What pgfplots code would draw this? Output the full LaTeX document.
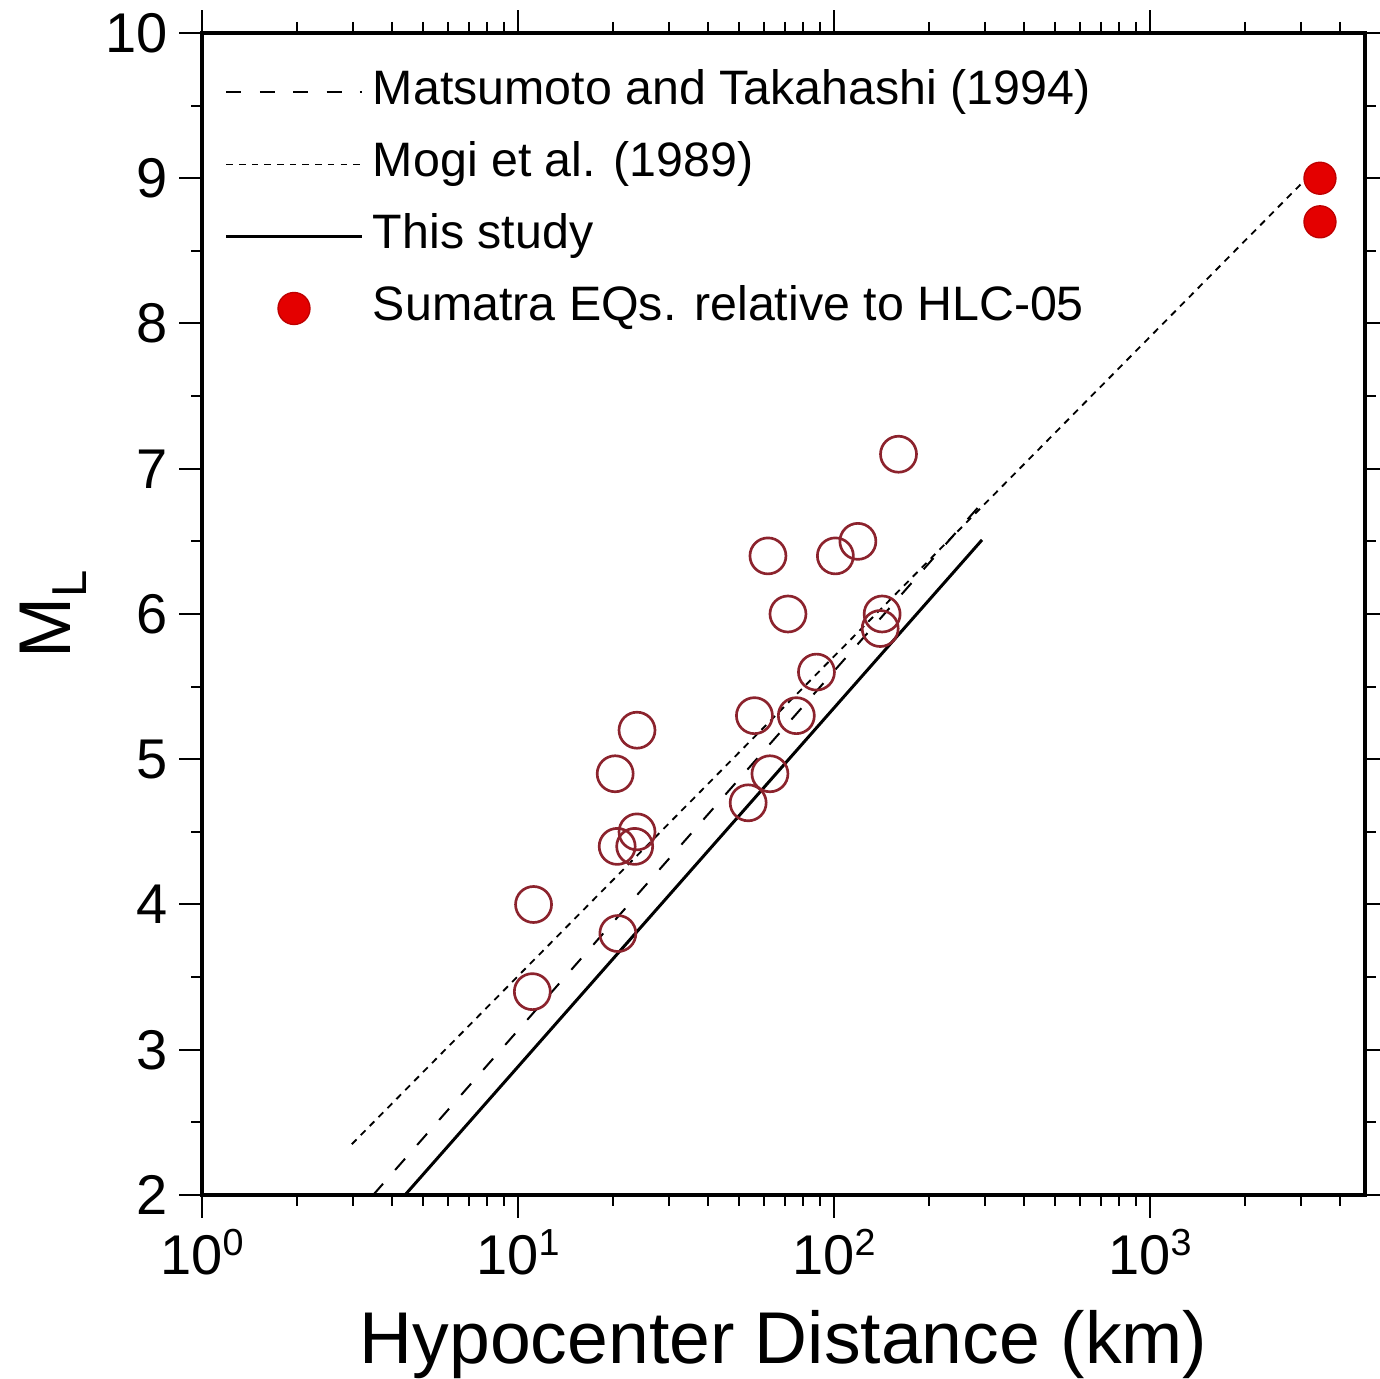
\documentclass[border=0pt]{standalone}
\usepackage{fontspec}
\setmainfont{Liberation Sans}
\usepackage{pgfplots}
\pgfplotsset{compat=1.18}

\definecolor{ringred}{RGB}{140,35,45}
\definecolor{dotred}{RGB}{228,0,0}
\definecolor{dotedge}{RGB}{190,0,0}

% decade tick label: 10 with a raised exponent in the text font
\newcommand\dec[1]{10\raisebox{5.7pt}{\fontsize{11.3}{12}\selectfont #1}}

\begin{document}
\begin{tikzpicture}
\begin{axis}[
  scale only axis,
  width=348.9pt, height=348.6pt,
  xmode=log, log basis x=10,
  xmin=1, xmax=4790, ymin=2, ymax=10,
  xtick={1,10,100,1000},
  xticklabels={\dec{0},\dec{1},\dec{2},\dec{3}},
  minor xtick={2,3,4,5,6,7,8,9,20,30,40,50,60,70,80,90,
               200,300,400,500,600,700,800,900,2000,3000,4000},
  ytick={2,3,...,10},
  minor ytick={2.5,3.5,...,9.5},
  /pgf/number format/assume math mode=true,
  tick align=outside,
  major tick length=6.8pt, minor tick length=3.3pt,
  every tick/.style={black, line width=0.6pt},
  axis line style={line width=1.3pt},
  tick label style={font=\fontsize{16.8}{20}\selectfont},
  label style={font=\fontsize{22}{26}\selectfont},
  xlabel={Hypocenter Distance (km)},
  ylabel={M\raisebox{-5pt}{\fontsize{14.7}{16}\selectfont L}},
  xlabel style={at={(axis description cs:0.5,-0.1446)}, anchor=base},
  ylabel style={at={(axis description cs:-0.1135,0.5)}, anchor=base},
  legend style={
    at={(axis description cs:0,1)}, anchor=north west,
    xshift=6.9pt, yshift=-10.6pt,
    draw=none, fill=none, inner sep=0pt, outer sep=0pt,
    font=\fontsize{14.5}{17}\selectfont,
    row sep=7.1pt,
    nodes={inner sep=0pt, text height=11pt, text depth=3.5pt},
  },
  legend cell align=left,
  legend image code/.code={%
    \draw[mark repeat=2, mark phase=2, #1]
      plot coordinates {(0pt,0pt) (20.25pt,0pt) (40.5pt,0pt)};
    \path (43.5pt,0pt);},
]

% magnitude--distance relations
\addplot[black, line width=0.6pt, dash pattern=on 4.5pt off 5.5pt]
  coordinates {(3.48,2.0) (290,6.75)};
\addlegendentry{Matsumoto and Takahashi (1994)}

\addplot[black, line width=0.55pt, dash pattern=on 2pt off 1.8pt]
  coordinates {(2.98,2.35) (3100,8.99)};
\addlegendentry{Mogi et al. (1989)}

\addplot[black, line width=0.9pt]
  coordinates {(4.39,2.0) (294,6.51)};
\addlegendentry{This study}

% local events
\addplot[only marks, mark=o, mark size=5.4pt, ringred,
  mark options={line width=0.8pt}, forget plot]
  coordinates {
    (160,7.1) (61.8,6.4) (101,6.4) (119,6.5) (71.5,6.0)
    (142,6.0) (140,5.9) (88,5.6) (56,5.3) (76,5.3)
    (23.8,5.2) (20.3,4.9) (62.7,4.9) (53.5,4.7) (23.8,4.5)
    (20.6,4.4) (23.4,4.4) (11.2,4.0) (20.7,3.8) (11.1,3.4)
  };

% Sumatra events
\addplot[only marks, mark=*, mark size=4.8pt,
  mark options={fill=dotred, draw=dotedge, line width=0.4pt}]
  coordinates {(3450,9.0) (3450,8.7)};
\addlegendentry{Sumatra EQs. relative to HLC-05}

\end{axis}
\pgfresetboundingbox
\path[use as bounding box]
  ([xshift=-60.6pt,yshift=-55.2pt]current axis.south west)
  rectangle ([xshift=4.5pt,yshift=9.9pt]current axis.north east);
\end{tikzpicture}
\end{document}
